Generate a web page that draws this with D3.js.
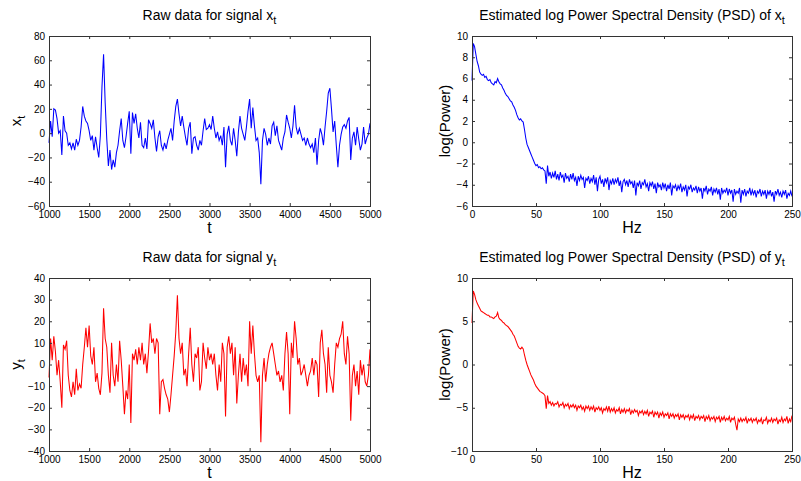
<!DOCTYPE html>
<html>
<head>
<meta charset="utf-8">
<script src="https://cdn.jsdelivr.net/npm/d3@7"></script>
<style>
  body { margin: 0; background: #fff; }
  svg { display: block; font-family: "Liberation Sans", Arial, Helvetica, sans-serif; }
  .tick text { font-size: 10px; fill: #000; }
  .tick line { stroke: #333; }
</style>
</head>
<body>
<svg id="chart" width="801" height="481"></svg>
<script>
// sample times of the raw signals (one value every 20 samples)
const tStart = 1000, tStep = 20;
// raw signal x_t
const rawX = [
  -8, 10, -3, 20, 19, 12, 0, 2, -18, 14,
  2, 0, -10, -8, -13, -8, -14, -5, -10, -6,
  5, 22, 14, 10, 8, 2, -6, -2, -14, -3,
  -12, -20, -2, 38, 65, 25, -5, -27, -14, -30,
  -22, -28, -16, -10, 2, 12, -6, -12, -3, 8,
  18, -17, 17, 8, 16, 4, -4, 9, -10, -12,
  -4, -13, 11, 8, 4, 11, -4, -15, -3, 2,
  -10, -14, -8, -13, -6, -1, 4, -6, 10, 22,
  28, 16, 6, 14, 5, -3, -10, 4, 9, -17,
  -4, -3, -10, -14, -6, -10, 2, 12, 3, 4,
  7, 3, 14, 4, -4, 1, -6, -2, -10, 5,
  -28, -1, 6, -6, -10, 4, -6, -19, 1, 14,
  4, -1, -6, 5, 18, 28, 4, 21, 6, -6,
  -4, -16, -42, -6, 4, -1, -10, -4, -9, 6,
  9, -2, 6, -6, -10, -14, -4, 1, 15, 9,
  4, -4, 6, 23, 5, -1, 4, -1, -6, -4,
  -10, -4, -9, -12, -9, -16, -4, -26, -6, 4,
  -1, -10, 5, 18, 33, 37, 20, 1, 10, -10,
  -28, -10, -1, 5, 7, 4, 10, 13, -22, -4,
  1, -10, 5, -5, -14, -9, 5, -9, -4, -1,
  8
];
// raw signal y_t
const rawY = [
  -6, 12, 2, 13, 6, -5, 2, -8, -20, 9,
  7, 11, -5, -12, -15, -8, -14, -2, -12, -9,
  -11, 0, 8, 17, 8, 18, 4, 0, 8, -8,
  -4, -11, -14, -4, 26, 12, 8, -5, -13, 10,
  -5, -10, 0, -8, 11, 2, -10, -23, -12, -16,
  0, -27, 5, 2, 7, 0, 8, 2, 10, 0,
  5, -4, 6, 19, 10, 12, 5, 12, 10, -23,
  -8, -7, -11, -14, -16, -22, -14, -5, 4, 15,
  32, 12, 5, 10, -5, -2, -10, 5, 17, 0,
  -8, 5, 3, 8, -12, -8, 10, 3, -2, 8,
  2, 5, 0, 5, -5, -12, 0, -8, 10, 5,
  -24, 8, 13, 5, 10, -5, 8, -18, -5, 5,
  -8, 3, -5, 0, -10, 20, 5, 18, 5, -5,
  -8, -5, -36, -5, 3, -8, 0, 5, 8, 10,
  5, 0, -5, -3, -8, -5, -12, 5, 15, 5,
  -23, 10, 3, 20, 12, 0, 3, -5, -3, 0,
  -5, -10, -5, -3, 3, -5, 2, 0, -15, 10,
  16, 5, 0, -13, 8, -5, -8, -13, 0, 10,
  8, 12, 14, 20, 5, 0, 13, 5, -26, -5,
  0, -10, -3, -14, 2, -5, 0, -8, -10, -5,
  7
];

// log PSD, one value per Hz from 0 to 250
const psdX = [
  5.8, 9.3, 9.0, 8.3, 7.6, 7.2, 6.6, 6.4, 6.3, 6.4,
  6.1, 6.2, 5.9, 5.8, 5.9, 5.6, 5.5, 5.4, 5.7, 5.6,
  6.0, 5.7, 5.5, 5.4, 5.1, 4.9, 4.6, 4.4, 4.3, 4.1,
  3.9, 3.8, 3.5, 3.3, 3.0, 2.6, 2.3, 2.1, 2.2, 2.0,
  1.9, 1.2, 0.4, -0.2, -0.5, -0.8, -1.1, -1.4, -1.7, -2.0,
  -2.2, -2.1, -2.4, -2.3, -2.5, -2.4, -2.6, -2.7, -3.9, -2.2,
  -3.2, -2.8, -3.4, -2.9, -3.3, -2.7, -3.5, -3.0, -3.6, -2.8,
  -3.3, -3.1, -3.8, -2.9, -3.4, -3.2, -3.7, -3.0, -3.5, -2.9,
  -3.6, -3.3, -4.1, -3.2, -3.6, -3.1, -3.5, -3.3, -4.3, -3.4,
  -3.6, -3.2, -3.9, -3.4, -3.7, -3.1, -4.0, -3.3, -4.6, -3.5,
  -3.2, -3.9, -3.5, -4.2, -3.4, -3.8, -3.3, -4.5, -3.6, -3.9,
  -3.4, -4.0, -3.5, -3.8, -3.3, -4.1, -3.6, -4.7, -3.7, -3.5,
  -4.0, -3.6, -4.2, -3.5, -3.9, -3.7, -4.3, -3.6, -5.0, -3.8,
  -4.1, -3.6, -4.4, -3.8, -4.0, -3.5, -4.2, -3.9, -4.6, -3.8,
  -4.1, -3.7, -4.4, -3.9, -4.8, -3.8, -4.2, -4.0, -4.5, -3.8,
  -4.3, -3.9, -4.6, -4.0, -4.4, -3.8, -5.0, -4.1, -4.3, -4.0,
  -4.6, -4.1, -4.4, -3.9, -4.7, -4.2, -4.5, -4.0, -5.1, -4.2,
  -4.4, -4.0, -4.7, -4.3, -4.5, -4.1, -4.8, -4.2, -4.6, -4.3,
  -5.3, -4.3, -4.6, -4.1, -4.9, -4.4, -4.6, -4.2, -5.0, -4.4,
  -4.7, -4.3, -4.9, -4.4, -5.4, -4.3, -4.8, -4.5, -4.7, -4.3,
  -5.0, -4.4, -4.8, -4.5, -5.6, -4.4, -4.9, -4.6, -4.8, -4.3,
  -5.7, -4.5, -4.9, -4.4, -5.1, -4.6, -4.8, -4.3, -5.0, -4.5,
  -4.9, -4.5, -5.2, -4.6, -4.8, -4.4, -5.1, -4.6, -4.9, -4.5,
  -5.3, -4.6, -4.9, -4.5, -5.1, -4.7, -5.6, -4.6, -4.9, -4.4,
  -5.0, -4.7, -5.2, -4.6, -4.9, -4.5, -5.3, -4.8, -5.0, -4.6,
  -5.1
];
const psdY = [
  4.8, 8.5, 8.1, 7.5, 7.1, 6.8, 6.5, 6.2, 6.1, 6.0,
  5.9, 5.8, 5.7, 5.7, 5.5, 5.5, 5.4, 5.3, 5.5, 5.6,
  6.0, 5.4, 5.2, 5.1, 4.9, 4.8, 4.6, 4.5, 4.4, 4.2,
  4.0, 3.8, 3.5, 3.3, 2.9, 2.5, 2.1, 1.9, 1.8, 2.0,
  1.8, 1.1, 0.5, 0.0, -0.4, -0.8, -1.2, -1.5, -1.8, -2.2,
  -2.5, -2.7, -2.9, -3.1, -3.2, -3.3, -3.4, -3.6, -5.1, -3.6,
  -4.5, -4.3, -4.7, -4.4, -4.8, -4.5, -4.6, -4.3, -4.9, -4.6,
  -4.7, -4.4, -5.0, -4.6, -4.8, -4.5, -5.1, -4.7, -4.9, -4.6,
  -5.0, -4.7, -5.3, -4.8, -5.0, -4.7, -5.2, -4.9, -5.4, -4.8,
  -5.1, -4.8, -5.3, -4.9, -5.2, -4.8, -5.5, -5.0, -5.2, -4.9,
  -5.3, -5.0, -5.6, -5.1, -5.3, -4.9, -5.4, -4.8, -5.5, -5.1,
  -5.4, -5.0, -5.6, -5.2, -5.4, -5.0, -5.7, -5.2, -5.5, -5.1,
  -5.6, -5.2, -5.4, -5.1, -5.8, -5.3, -5.6, -5.2, -5.5, -5.3,
  -5.9, -5.4, -5.6, -5.3, -5.8, -5.4, -5.7, -5.3, -6.0, -5.5,
  -5.7, -5.4, -6.1, -5.5, -5.8, -5.5, -6.2, -5.6, -5.9, -5.5,
  -6.1, -5.7, -5.9, -5.6, -6.3, -5.7, -6.0, -5.7, -6.2, -5.8,
  -6.0, -5.7, -6.4, -5.8, -6.1, -5.8, -6.3, -5.9, -6.1, -5.8,
  -6.4, -5.9, -6.2, -5.8, -6.5, -6.0, -6.2, -5.9, -6.4, -6.0,
  -6.2, -5.9, -6.6, -6.0, -6.3, -5.9, -6.5, -6.1, -6.3, -6.0,
  -6.6, -6.1, -6.3, -6.0, -6.7, -6.1, -6.4, -6.0, -6.5, -6.2,
  -6.4, -6.0, -6.7, -6.2, -6.4, -6.1, -6.9, -7.6, -6.3, -6.6,
  -6.2, -6.6, -6.3, -6.5, -6.1, -6.8, -6.3, -6.5, -6.2, -6.7,
  -6.3, -6.5, -6.2, -6.8, -6.4, -6.6, -6.2, -6.9, -6.4, -6.5,
  -6.1, -6.8, -6.4, -6.6, -6.2, -6.7, -6.3, -6.5, -6.2, -6.9,
  -6.4, -6.6, -6.1, -6.7, -6.3, -6.5, -6.0, -6.8, -6.3, -6.6,
  -5.9
];

// tick values
const timeTicks = [1000, 1500, 2000, 2500, 3000, 3500, 4000, 4500, 5000];
const hzTicks = [0, 50, 100, 150, 200, 250];
const rawXTicks = [-60, -40, -20, 0, 20, 40, 60, 80];
const rawYTicks = [-40, -30, -20, -10, 0, 10, 20, 30, 40];
const psdXTicks = [-6, -4, -2, 0, 2, 4, 6, 8, 10];
const psdYTicks = [-10, -5, 0, 5, 10];

const times = rawX.map((d, i) => tStart + i * tStep);
const hz = psdX.map((d, i) => i);

const svg = d3.select("#chart");

const panels = [
  { box: [49, 36, 370, 206], xs: times, ys: rawX, xDomain: [1000, 5000], yDomain: [-60, 80],
    xTicks: timeTicks, yTicks: rawXTicks, color: "#0000ff",
    title: ["Raw data for signal x", "t"], xLabel: "t", yLabel: ["x", "t"], yLabelX: 21 },
  { box: [472, 36, 792, 206], xs: hz, ys: psdX, xDomain: [0, 250], yDomain: [-6, 10],
    xTicks: hzTicks, yTicks: psdXTicks, color: "#0000ff",
    title: ["Estimated log Power Spectral Density (PSD) of x", "t"], xLabel: "Hz", yLabel: ["log(Power)"], yLabelX: 450 },
  { box: [49, 278, 370, 451], xs: times, ys: rawY, xDomain: [1000, 5000], yDomain: [-40, 40],
    xTicks: timeTicks, yTicks: rawYTicks, color: "#ff0000",
    title: ["Raw data for signal y", "t"], xLabel: "t", yLabel: ["y", "t"], yLabelX: 21 },
  { box: [472, 278, 792, 451], xs: hz, ys: psdY, xDomain: [0, 250], yDomain: [-10, 10],
    xTicks: hzTicks, yTicks: psdYTicks, color: "#ff0000",
    title: ["Estimated log Power Spectral Density (PSD) of y", "t"], xLabel: "Hz", yLabel: ["log(Power)"], yLabelX: 450 }
];

panels.forEach(p => {
  const [x0, y0, x1, y1] = p.box;
  const x = d3.scaleLinear().domain(p.xDomain).range([x0, x1]);
  const y = d3.scaleLinear().domain(p.yDomain).range([y1, y0]);
  const g = svg.append("g");

  // the trace
  const line = d3.line()
    .x((d, i) => x(p.xs[i]))
    .y(d => y(d));
  g.append("path")
    .datum(p.ys)
    .attr("d", line)
    .attr("fill", "none")
    .attr("stroke", p.color)
    .attr("stroke-width", 1.05);

  // inward ticks on all four sides, like a boxed matlab axes
  g.append("g").attr("transform", `translate(0,${y1})`)
    .call(d3.axisBottom(x).tickValues(p.xTicks).tickSizeInner(-3).tickSizeOuter(0).tickPadding(5).tickFormat(d3.format("d")));
  g.append("g").attr("transform", `translate(0,${y0})`)
    .call(d3.axisTop(x).tickValues(p.xTicks).tickSizeInner(-3).tickSizeOuter(0).tickFormat(""));
  g.append("g").attr("transform", `translate(${x0},0)`)
    .call(d3.axisLeft(y).tickValues(p.yTicks).tickSizeInner(-3).tickSizeOuter(0).tickPadding(4).tickFormat(d3.format("d")));
  g.append("g").attr("transform", `translate(${x1},0)`)
    .call(d3.axisRight(y).tickValues(p.yTicks).tickSizeInner(-3).tickSizeOuter(0).tickFormat(""));
  g.selectAll(".domain").remove();
  g.selectAll(".tick text").attr("font-family", null).attr("font-size", null);

  g.append("rect")
    .attr("x", x0 + 0.5).attr("y", y0 + 0.5)
    .attr("width", x1 - x0).attr("height", y1 - y0)
    .attr("fill", "none").attr("stroke", "#333").attr("stroke-width", 1);

  // title with subscript
  const cx = (x0 + x1) / 2;
  const title = g.append("text")
    .attr("x", cx).attr("y", y0 - 16)
    .attr("text-anchor", "middle")
    .attr("font-size", 14);
  title.append("tspan").text(p.title[0]);
  title.append("tspan").attr("dy", 4).attr("font-size", 11).text(p.title[1]);

  g.append("text")
    .attr("x", cx).attr("y", y1 + 27)
    .attr("text-anchor", "middle")
    .attr("font-size", 16)
    .text(p.xLabel);

  const yl = g.append("text")
    .attr("transform", `translate(${p.yLabelX},${(y0 + y1) / 2}) rotate(-90)`)
    .attr("text-anchor", "middle")
    .attr("font-size", 15);
  yl.append("tspan").text(p.yLabel[0]);
  if (p.yLabel[1]) yl.append("tspan").attr("dy", 4).attr("font-size", 11).text(p.yLabel[1]);
});
</script>
</body>
</html>
